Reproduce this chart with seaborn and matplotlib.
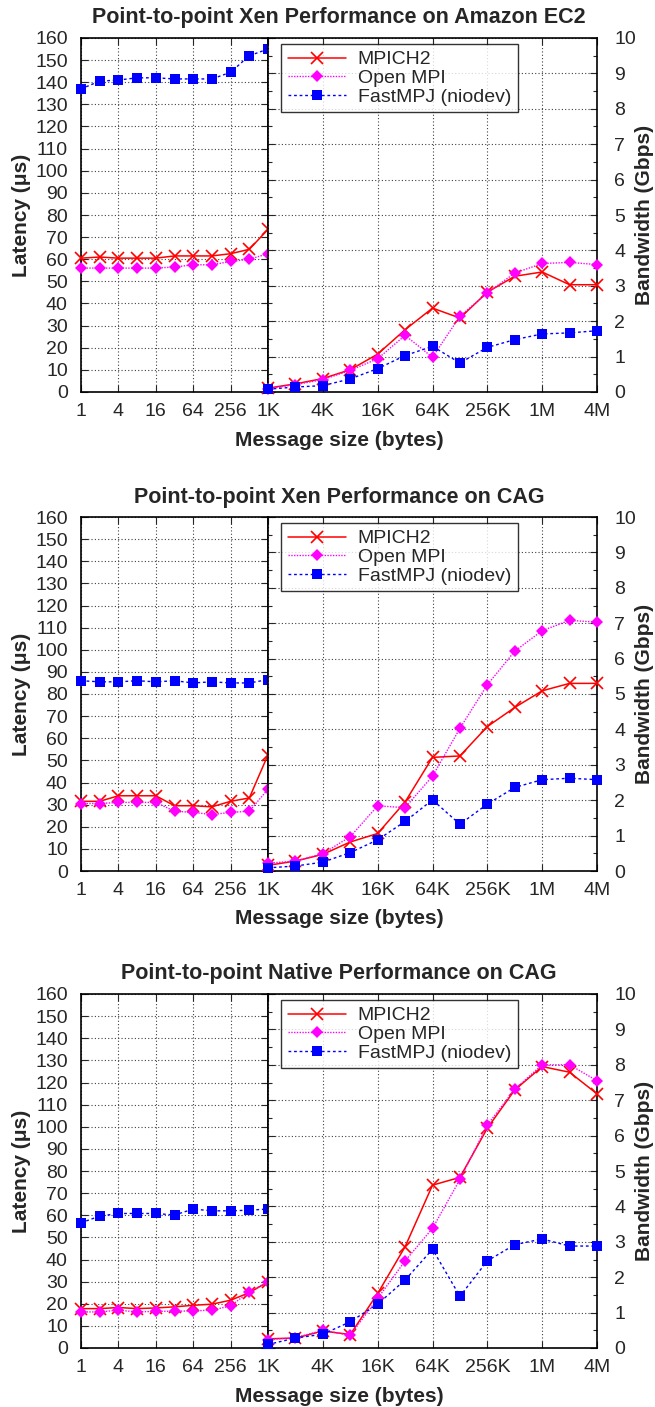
import numpy as np
import pandas as pd
import matplotlib
matplotlib.use("Agg")
import matplotlib.pyplot as plt
import seaborn as sns
from matplotlib.ticker import FixedLocator, NullFormatter, MultipleLocator
from matplotlib.lines import Line2D

sns.set_style("ticks")
plt.rcParams['font.family'] = ['Liberation Sans', 'DejaVu Sans']

# ---------------- data ----------------
lat_sizes = [1, 2, 4, 8, 16, 32, 64, 128, 256, 512, 1024]
bw_sizes = [1024 * 2 ** i for i in range(13)]  # 1K .. 4M

titles = [
    "Point-to-point Xen Performance on Amazon EC2",
    "Point-to-point Xen Performance on CAG",
    "Point-to-point Native Performance on CAG",
]

# Panel 1: Xen on Amazon EC2
ec2_lat_mpich = [60.5, 61, 60.5, 60.5, 60.5, 61.5, 61.5, 61.5, 62.5, 64.5, 73.5]
ec2_lat_ompi = [56, 56, 56, 56, 56, 56.5, 57.5, 57.5, 59, 60, 62.5]
ec2_lat_fmpj = [137, 140.5, 141, 142, 142, 141.5, 141.5, 141.5, 144.5, 152, 155]
ec2_bw_mpich = [0.11, 0.23, 0.38, 0.63, 1.07, 1.76, 2.37, 2.09, 2.82, 3.27, 3.39, 3.03, 3.03]
ec2_bw_ompi = [0.09, 0.21, 0.35, 0.61, 0.94, 1.60, 0.98, 2.14, 2.80, 3.36, 3.63, 3.66, 3.60]
ec2_bw_fmpj = [0.08, 0.14, 0.18, 0.37, 0.66, 1.03, 1.29, 0.82, 1.26, 1.48, 1.64, 1.67, 1.73]

# Panel 2: Xen on CAG
xen_lat_mpich = [31.5, 31.5, 34, 34, 34, 29.5, 29.5, 29, 31.5, 33, 52.5]
xen_lat_ompi = [30.5, 30.5, 31, 31, 31, 27, 26.5, 25.5, 26.5, 27, 37]
xen_lat_fmpj = [86, 85.5, 85.5, 86, 85.5, 86, 85, 85.5, 85, 85, 86.5]
xen_bw_mpich = [0.16, 0.28, 0.47, 0.82, 1.06, 1.95, 3.21, 3.25, 4.08, 4.62, 5.09, 5.30, 5.30]
xen_bw_ompi = [0.22, 0.28, 0.49, 0.97, 1.84, 1.79, 2.68, 4.03, 5.26, 6.21, 6.79, 7.08, 7.03]
xen_bw_fmpj = [0.09, 0.14, 0.25, 0.52, 0.88, 1.40, 2.01, 1.32, 1.89, 2.36, 2.58, 2.62, 2.58]

# Panel 3: Native on CAG
nat_lat_mpich = [17.8, 17.8, 18.3, 17.8, 18.1, 18.6, 19.3, 19.8, 21.6, 25, 29.9]
nat_lat_ompi = [16.3, 16.3, 17.1, 16.3, 16.6, 16.6, 16.8, 17.1, 19, 25.4, 29.9]
nat_lat_fmpj = [56.6, 59.6, 60.8, 60.8, 60.8, 60.1, 62.8, 62, 62, 62.3, 62.8]
nat_bw_mpich = [0.26, 0.28, 0.48, 0.38, 1.54, 2.86, 4.60, 4.82, 6.21, 7.29, 7.95, 7.79, 7.18]
nat_bw_ompi = [0.24, 0.29, 0.50, 0.36, 1.40, 2.46, 3.38, 4.76, 6.30, 7.31, 8.00, 8.00, 7.55]
nat_bw_fmpj = [0.10, 0.28, 0.39, 0.74, 1.24, 1.92, 2.79, 1.46, 2.46, 2.92, 3.08, 2.88, 2.88]

series_names = ["MPICH2", "Open MPI", "FastMPJ (niodev)"]
lat_ticks = [1, 4, 16, 64, 256]
lat_ticklabels = ["1", "4", "16", "64", "256"]
bw_ticks = [1024, 4096, 16384, 65536, 262144, 1048576, 4194304]
bw_ticklabels = ["1K", "4K", "16K", "64K", "256K", "1M", "4M"]

panels = [
    (titles[0], [ec2_lat_mpich, ec2_lat_ompi, ec2_lat_fmpj], [ec2_bw_mpich, ec2_bw_ompi, ec2_bw_fmpj]),
    (titles[1], [xen_lat_mpich, xen_lat_ompi, xen_lat_fmpj], [xen_bw_mpich, xen_bw_ompi, xen_bw_fmpj]),
    (titles[2], [nat_lat_mpich, nat_lat_ompi, nat_lat_fmpj], [nat_bw_mpich, nat_bw_ompi, nat_bw_fmpj]),
]

# ---------------- style ----------------
styles = {
    "MPICH2": dict(color="#ff0000", marker="x", linestyle="-", markersize=8, markeredgewidth=1.2, lw=1.1),
    "Open MPI": dict(color="#ff00ff", marker="D", linestyle=(0, (1, 1)), markersize=6, markeredgewidth=0, lw=1.0),
    "FastMPJ (niodev)": dict(color="#0000ff", marker="s", linestyle=(0, (2, 2)), markersize=7.3, markeredgewidth=0, lw=1.0),
}

W, H = 655, 1407
fig = plt.figure(figsize=(W / 100, H / 100), dpi=100)

tops = [38, 517, 994]
ph = 354
xL, xM, xR = 81, 268, 597
fs = 14


def draw(ax, xs, ys_list):
    for name, ys in zip(series_names, ys_list):
        df = pd.DataFrame({"size": xs, "val": ys})
        st = styles[name]
        sns.lineplot(data=df, x="size", y="val", ax=ax, color=st["color"],
                     marker=st["marker"], linestyle=st["linestyle"], lw=st["lw"],
                     markersize=st["markersize"], markeredgewidth=st["markeredgewidth"],
                     markeredgecolor=st["color"], clip_on=False, zorder=3, legend=False)


for top, (title, lat, bw) in zip(tops, panels):
    bottom = H - top - ph
    axL = fig.add_axes([xL / W, bottom / H, (xM - xL) / W, ph / H])
    axR = fig.add_axes([xM / W, bottom / H, (xR - xM) / W, ph / H])

    draw(axL, lat_sizes, lat)
    draw(axR, bw_sizes, bw)

    for ax in (axL, axR):
        ax.set_xscale("log", base=2)
        ax.set_xlabel("")
        ax.set_ylabel("")
        for s in ax.spines.values():
            s.set_linewidth(1.2)
            s.set_color("black")
        ax.grid(True, which="major", color="0.25", linestyle=(0, (1, 2)), lw=0.8)
        ax.set_axisbelow(True)

    axL.set_xlim(1, 1024)
    axL.set_ylim(0, 160)
    axL.xaxis.set_major_locator(FixedLocator(lat_ticks))
    axL.set_xticklabels(lat_ticklabels)
    axL.xaxis.set_minor_formatter(NullFormatter())
    axL.xaxis.set_minor_locator(FixedLocator([]))
    axL.yaxis.set_major_locator(MultipleLocator(10))
    axL.tick_params(axis="both", direction="in", labelsize=fs, top=True, right=True,
                    length=5, width=0.8)
    axL.tick_params(axis="x", pad=8)
    axL.tick_params(axis="y", pad=9.5)

    axR.set_xlim(1024, 4194304)
    axR.set_ylim(0, 10)
    axR.xaxis.set_major_locator(FixedLocator(bw_ticks))
    axR.set_xticklabels(bw_ticklabels)
    axR.xaxis.set_minor_formatter(NullFormatter())
    axR.xaxis.set_minor_locator(FixedLocator([]))
    axR.yaxis.set_major_locator(MultipleLocator(1))
    axR.yaxis.set_minor_locator(MultipleLocator(0.5))
    axR.yaxis.tick_right()
    axR.tick_params(axis="both", which="both", direction="in", labelsize=fs, top=True,
                    left=True, right=True, labelleft=False, labelright=True,
                    length=5, width=0.8)
    axR.tick_params(axis="y", which="minor", length=3)
    axR.tick_params(axis="x", pad=8)
    axR.tick_params(axis="y", which="both", pad=12.5)

    # legend
    handles = [Line2D([0], [0], color=styles[n]["color"], marker=styles[n]["marker"],
                      linestyle=styles[n]["linestyle"], lw=styles[n]["lw"],
                      markersize=styles[n]["markersize"],
                      markeredgewidth=styles[n]["markeredgewidth"]) for n in series_names]
    leg = axR.legend(handles, series_names, loc="upper left", bbox_to_anchor=(13 / 329, 1 - 6 / ph),
                     fontsize=fs, frameon=True, fancybox=False, edgecolor="black",
                     handlelength=3.0, labelspacing=0.05, borderpad=0.35,
                     handletextpad=0.6, borderaxespad=0.0)
    leg.get_frame().set_linewidth(1.0)

    # titles and labels
    fig.text(339 / W, 1 - (top - 20) / H, title, ha="center", va="center",
             fontsize=15.5, fontweight="bold")
    fig.text(339 / W, 1 - (top + ph + 48) / H, "Message size (bytes)", ha="center",
             va="center", fontsize=15, fontweight="bold")
    fig.text(22 / W, 1 - (top + ph / 2) / H, "Latency (μs)", rotation=90, ha="center",
             va="center", fontsize=15, fontweight="bold")
    fig.text(645 / W, 1 - (top + ph / 2) / H, "Bandwidth (Gbps)", rotation=90, ha="center",
             va="center", fontsize=15, fontweight="bold")

fig.savefig("out.png", dpi=100, facecolor="white")
